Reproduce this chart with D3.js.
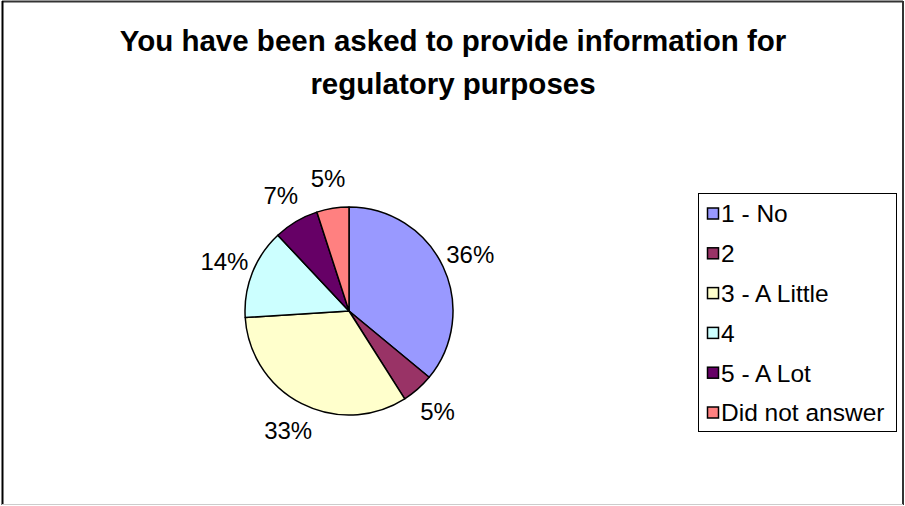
<!DOCTYPE html>
<html>
<head>
<meta charset="utf-8">
<script src="https://cdn.jsdelivr.net/npm/d3@7/dist/d3.min.js"></script>
<style>
  html, body { margin: 0; padding: 0; background: #fff; }
  svg { display: block; }
  text { font-family: Arial, "Liberation Sans", Helvetica, sans-serif; fill: #000; }
</style>
</head>
<body>
<svg id="chart" width="905" height="506"></svg>
<script>
// Survey responses (percent of respondents)
const categories = ["1 - No", "2", "3 - A Little", "4", "5 - A Lot", "Did not answer"];
const values = [36, 5, 33, 14, 7, 5];
const colors = ["#9999FF", "#993366", "#FFFFCC", "#CCFFFF", "#660066", "#FF8080"];
const titleLines = ["You have been asked to provide information for", "regulatory purposes"];

const width = 905, height = 506;
const svg = d3.select("#chart");

// Frame around the chart area
svg.append("rect").attr("x", 0).attr("y", 0).attr("width", width).attr("height", height).attr("fill", "#fff");
svg.append("line").attr("x1", 2).attr("x2", 903).attr("y1", 1.5).attr("y2", 1.5).attr("stroke", "#333").attr("stroke-width", 2);
svg.append("line").attr("x1", 2.5).attr("x2", 2.5).attr("y1", 1).attr("y2", 505).attr("stroke", "#000").attr("stroke-width", 2);
svg.append("line").attr("x1", 903).attr("x2", 903).attr("y1", 1).attr("y2", 505).attr("stroke", "#333").attr("stroke-width", 2);
svg.append("line").attr("x1", 2).attr("x2", 903).attr("y1", 504.5).attr("y2", 504.5).attr("stroke", "#ccc").attr("stroke-width", 1);

// Title
svg.append("text")
  .attr("text-anchor", "middle")
  .attr("font-size", 29.5)
  .attr("font-weight", "bold")
  .selectAll("tspan")
  .data(titleLines)
  .join("tspan")
  .attr("x", 453)
  .attr("y", (d, i) => 51 + i * 43)
  .text(d => d);

// Pie
const cx = 349, cy = 311, radius = 104;
const pie = d3.pie().sort(null).value(d => d.value);
const data = categories.map((c, i) => ({ name: c, value: values[i], color: colors[i] }));
const arcs = pie(data);
const arc = d3.arc().innerRadius(0).outerRadius(radius);
const labelArc = d3.arc().innerRadius(134).outerRadius(134);
const total = d3.sum(values);

const g = svg.append("g").attr("transform", `translate(${cx},${cy})`);
g.selectAll("path")
  .data(arcs)
  .join("path")
  .attr("d", arc)
  .attr("fill", d => d.data.color)
  .attr("stroke", "#000")
  .attr("stroke-width", 1.5)
  .attr("stroke-linejoin", "round");

g.selectAll("text.pct")
  .data(arcs)
  .join("text")
  .attr("class", "pct")
  .attr("transform", d => `translate(${labelArc.centroid(d)})`)
  .attr("text-anchor", "middle")
  .attr("dy", "0.36em")
  .attr("font-size", 24)
  .text(d => d3.format(".0%")(d.data.value / total));

// Legend
const lx = 698, ly = 193, lw = 198, lh = 238;
const legend = svg.append("g");
legend.append("rect")
  .attr("x", lx + 0.5).attr("y", ly + 0.5)
  .attr("width", lw).attr("height", lh)
  .attr("fill", "#fff").attr("stroke", "#000").attr("stroke-width", 1);

const rowY = d3.scalePoint().domain(categories).range([213.5, 412.5]);
const items = legend.selectAll("g.item")
  .data(data)
  .join("g")
  .attr("class", "item")
  .attr("transform", d => `translate(0,${rowY(d.name)})`);
items.append("rect")
  .attr("x", 707.5).attr("y", -5.5)
  .attr("width", 11).attr("height", 11)
  .attr("fill", d => d.color)
  .attr("stroke", "#000").attr("stroke-width", 1.5);
items.append("text")
  .attr("x", 721)
  .attr("dy", "0.36em")
  .attr("font-size", 24.5)
  .text(d => d.name);
</script>
</body>
</html>
